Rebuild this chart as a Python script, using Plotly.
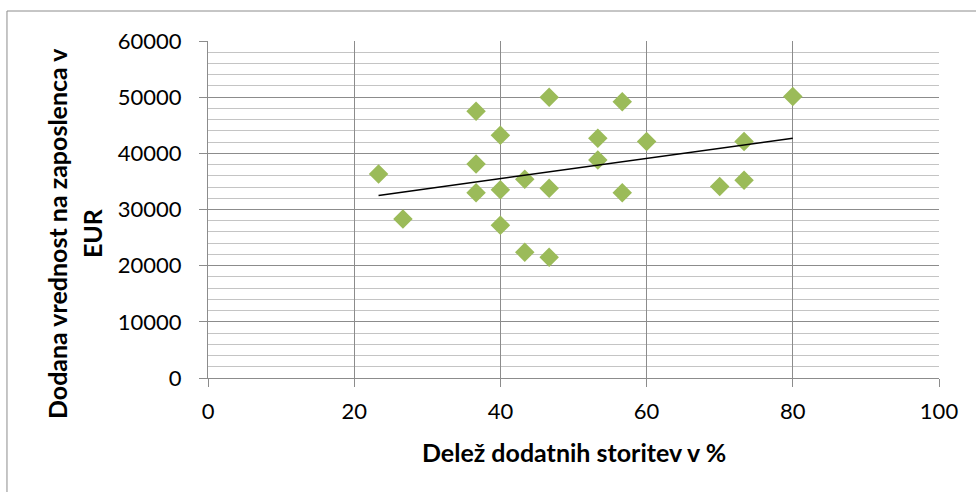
import numpy as np
import plotly.graph_objects as go

share_pct = [23.33, 26.67, 36.67, 36.67, 36.67, 40.0, 40.0, 40.0, 43.33, 43.33,
             46.67, 46.67, 46.67, 53.33, 53.33, 56.67, 56.67, 60.0, 70.0, 73.33, 73.33, 80.0]
value_eur = [36300, 28300, 47500, 38100, 33000, 43200, 33500, 27200, 35400, 22400,
             50000, 33800, 21500, 42700, 38800, 49200, 33000, 42100, 34100, 42100, 35200, 50100]

x_title = "Delež dodatnih storitev v %"
y_title_lines = ["Dodana vrednost na zaposlenca v", "EUR"]

slope, intercept = np.polyfit(share_pct, value_eur, 1)
tx = [min(share_pct), max(share_pct)]
ty = [slope * v + intercept for v in tx]

FONT = "Lato"
fig = go.Figure()
fig.add_trace(go.Scatter(x=share_pct, y=value_eur, mode="markers",
                         marker=dict(symbol="diamond", size=15, color="#9BBB59",
                                     line=dict(width=0)),
                         showlegend=False, hoverinfo="x+y"))
fig.add_trace(go.Scatter(x=tx, y=ty, mode="lines",
                         line=dict(color="black", width=1.5),
                         showlegend=False, hoverinfo="skip"))

fig.update_layout(
    width=976, height=492,
    margin=dict(l=208, r=37, t=41, b=114),
    paper_bgcolor="white", plot_bgcolor="white",
    font=dict(family=FONT, size=22, color="black"),
    xaxis=dict(range=[0, 100], tickvals=[0, 20, 40, 60, 80, 100],
               showgrid=True, gridcolor="#8C8C8C", gridwidth=1,
               showline=True, linecolor="#8C8C8C", linewidth=1,
               ticks="outside", ticklen=8, tickcolor="#8C8C8C",
               ticklabelstandoff=6,
               zeroline=False, fixedrange=True),
    yaxis=dict(range=[0, 60000], tickvals=[0, 10000, 20000, 30000, 40000, 50000, 60000],
               showgrid=True, gridcolor="#8C8C8C", gridwidth=1,
               minor=dict(dtick=2000, showgrid=True, gridcolor="#C4C4C4", gridwidth=1),
               showline=True, linecolor="#8C8C8C", linewidth=1,
               ticks="outside", ticklen=8, tickcolor="#8C8C8C",
               tickformat="d", ticklabelstandoff=13,
               zeroline=False, fixedrange=True),
    annotations=[
        dict(text="<b>" + x_title + "</b>", xref="paper", yref="paper",
             x=0.5, y=-0.22, xanchor="center", yanchor="middle",
             showarrow=False, font=dict(size=25)),
        dict(text="<b>" + y_title_lines[0] + "</b>", xref="paper", yref="paper",
             x=-0.2066, y=0.43, xanchor="center", yanchor="middle",
             textangle=-90, showarrow=False, font=dict(size=25)),
        dict(text="<b>" + y_title_lines[1] + "</b>", xref="paper", yref="paper",
             x=-0.1587, y=0.43, xanchor="center", yanchor="middle",
             textangle=-90, showarrow=False, font=dict(size=25)),
    ],
    shapes=[dict(type="rect", xref="paper", yref="paper",
                 x0=-0.275, x1=1.2, y0=-0.6, y1=1.089,
                 line=dict(color="#8C8C8C", width=1), layer="below")],
)
fig.write_html("out.html")
